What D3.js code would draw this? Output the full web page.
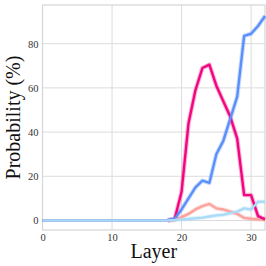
<!DOCTYPE html>
<html>
<head>
<meta charset="utf-8">
<script src="https://cdn.jsdelivr.net/npm/d3@7"></script>
<style>
  body { margin: 0; background: #fff; }
  svg text { font-family: "Liberation Serif", "DejaVu Serif", serif; }
</style>
</head>
<body>
<div id="container"></div>
<script>
/* DATA */
const layers = d3.range(0, 33);
// layers 0..32
const pinkVals = [0,0,0,0,0,0,0,0,0,0,0,0,0,0,0,0,0,0,0.1,0.5,13,44,59,69,70.5,61,54,47,37,11.5,11.5,2,0.5];
const blueVals = [0,0,0,0,0,0,0,0,0,0,0,0,0,0,0,0,0,0,0.1,0.8,5,10,15,18,17,30,36,46,56,83.5,84.5,88,92.5];
const salmonVals = [0,0,0,0,0,0,0,0,0,0,0,0,0,0,0,0,0,0,0,0.3,1.5,3,5,6.5,7.5,5.5,5,4,3,1.2,0.8,0.5,0.3];
const lightVals = [0,0,0,0,0,0,0,0,0,0,0,0,0,0,0,0,0,0,0,0.2,0.5,0.7,1,1.3,1.8,2.3,2.6,3.3,4,5.5,5,8.5,8.5];
const xTicks = [0, 10, 20, 30];
const yTicks = [0, 20, 40, 60, 80];

const series = [
  {name: "salmon", values: salmonVals, color: "#fca39d"},
  {name: "pink", values: pinkVals, color: "#f0077f"},
  {name: "blue", values: blueVals, color: "#5b8ff9"},
  {name: "light", values: lightVals, color: "#aadcf8"}
];

const W = 266, H = 266;
const margin = {top: 5, right: 1, bottom: 36, left: 42.5};

const svg = d3.select("#container").append("svg")
  .attr("width", W).attr("height", H);

const xScale = d3.scaleLinear().domain([0, 32]).range([margin.left, W - margin.right]);
const yScale = d3.scaleLinear().domain([-4.3, 97.5]).range([H - margin.bottom, margin.top]);

// grid
svg.append("g")
  .selectAll("line")
  .data(xTicks)
  .join("line")
  .attr("x1", d => xScale(d)).attr("x2", d => xScale(d))
  .attr("y1", margin.top).attr("y2", H - margin.bottom)
  .attr("stroke", "#dcdcdc").attr("stroke-width", 1);

svg.append("g")
  .selectAll("line")
  .data(yTicks)
  .join("line")
  .attr("x1", margin.left).attr("x2", W - margin.right)
  .attr("y1", d => yScale(d)).attr("y2", d => yScale(d))
  .attr("stroke", "#dcdcdc").attr("stroke-width", 1);

// frame
svg.append("rect")
  .attr("x", margin.left).attr("y", margin.top)
  .attr("width", W - margin.right - margin.left)
  .attr("height", H - margin.bottom - margin.top)
  .attr("fill", "none").attr("stroke", "#d6d6d6").attr("stroke-width", 1.2);

// axes (labels only)
const xAxis = svg.append("g")
  .attr("transform", `translate(0,${H - margin.bottom})`)
  .call(d3.axisBottom(xScale).tickValues(xTicks).tickSize(0).tickPadding(4));
const yAxis = svg.append("g")
  .attr("transform", `translate(${margin.left},0)`)
  .call(d3.axisLeft(yScale).tickValues(yTicks).tickSize(0).tickPadding(4));
[xAxis, yAxis].forEach(a => {
  a.attr("font-family", "'Liberation Serif', serif").attr("font-size", 10.5);
  a.select(".domain").remove();
  a.selectAll("text")
    .attr("font-family", "'Liberation Serif', serif")
    .attr("fill", "#333");
});

// lines
const line = d3.line()
  .x((d, i) => xScale(layers[i]))
  .y(d => yScale(d));

// band only where the series is active
const bandLine = d3.line()
  .defined((d, i) => layers[i] >= 18)
  .x((d, i) => xScale(layers[i]))
  .y(d => yScale(d));

const lines = svg.append("g");
series.forEach(s => {
  lines.append("path")
    .attr("d", bandLine(s.values))
    .attr("fill", "none")
    .attr("stroke", s.color)
    .attr("stroke-opacity", 0.3)
    .attr("stroke-width", 4.5)
    .attr("stroke-linejoin", "round");
});
series.forEach(s => {
  lines.append("path")
    .attr("d", line(s.values))
    .attr("fill", "none")
    .attr("stroke", s.color)
    .attr("stroke-width", 2.4)
    .attr("stroke-linejoin", "round");
});

// axis titles
svg.append("text")
  .attr("x", (margin.left + W - margin.right) / 2)
  .attr("y", 258)
  .attr("text-anchor", "middle")
  .style("font-size", "20px")
  .attr("fill", "#111")
  .text("Layer");

svg.append("text")
  .attr("transform", `translate(20,${(margin.top + H - margin.bottom) / 2}) rotate(-90)`)
  .attr("text-anchor", "middle")
  .style("font-size", "20px")
  .attr("fill", "#111")
  .text("Probability (%)");
</script>
</body>
</html>
